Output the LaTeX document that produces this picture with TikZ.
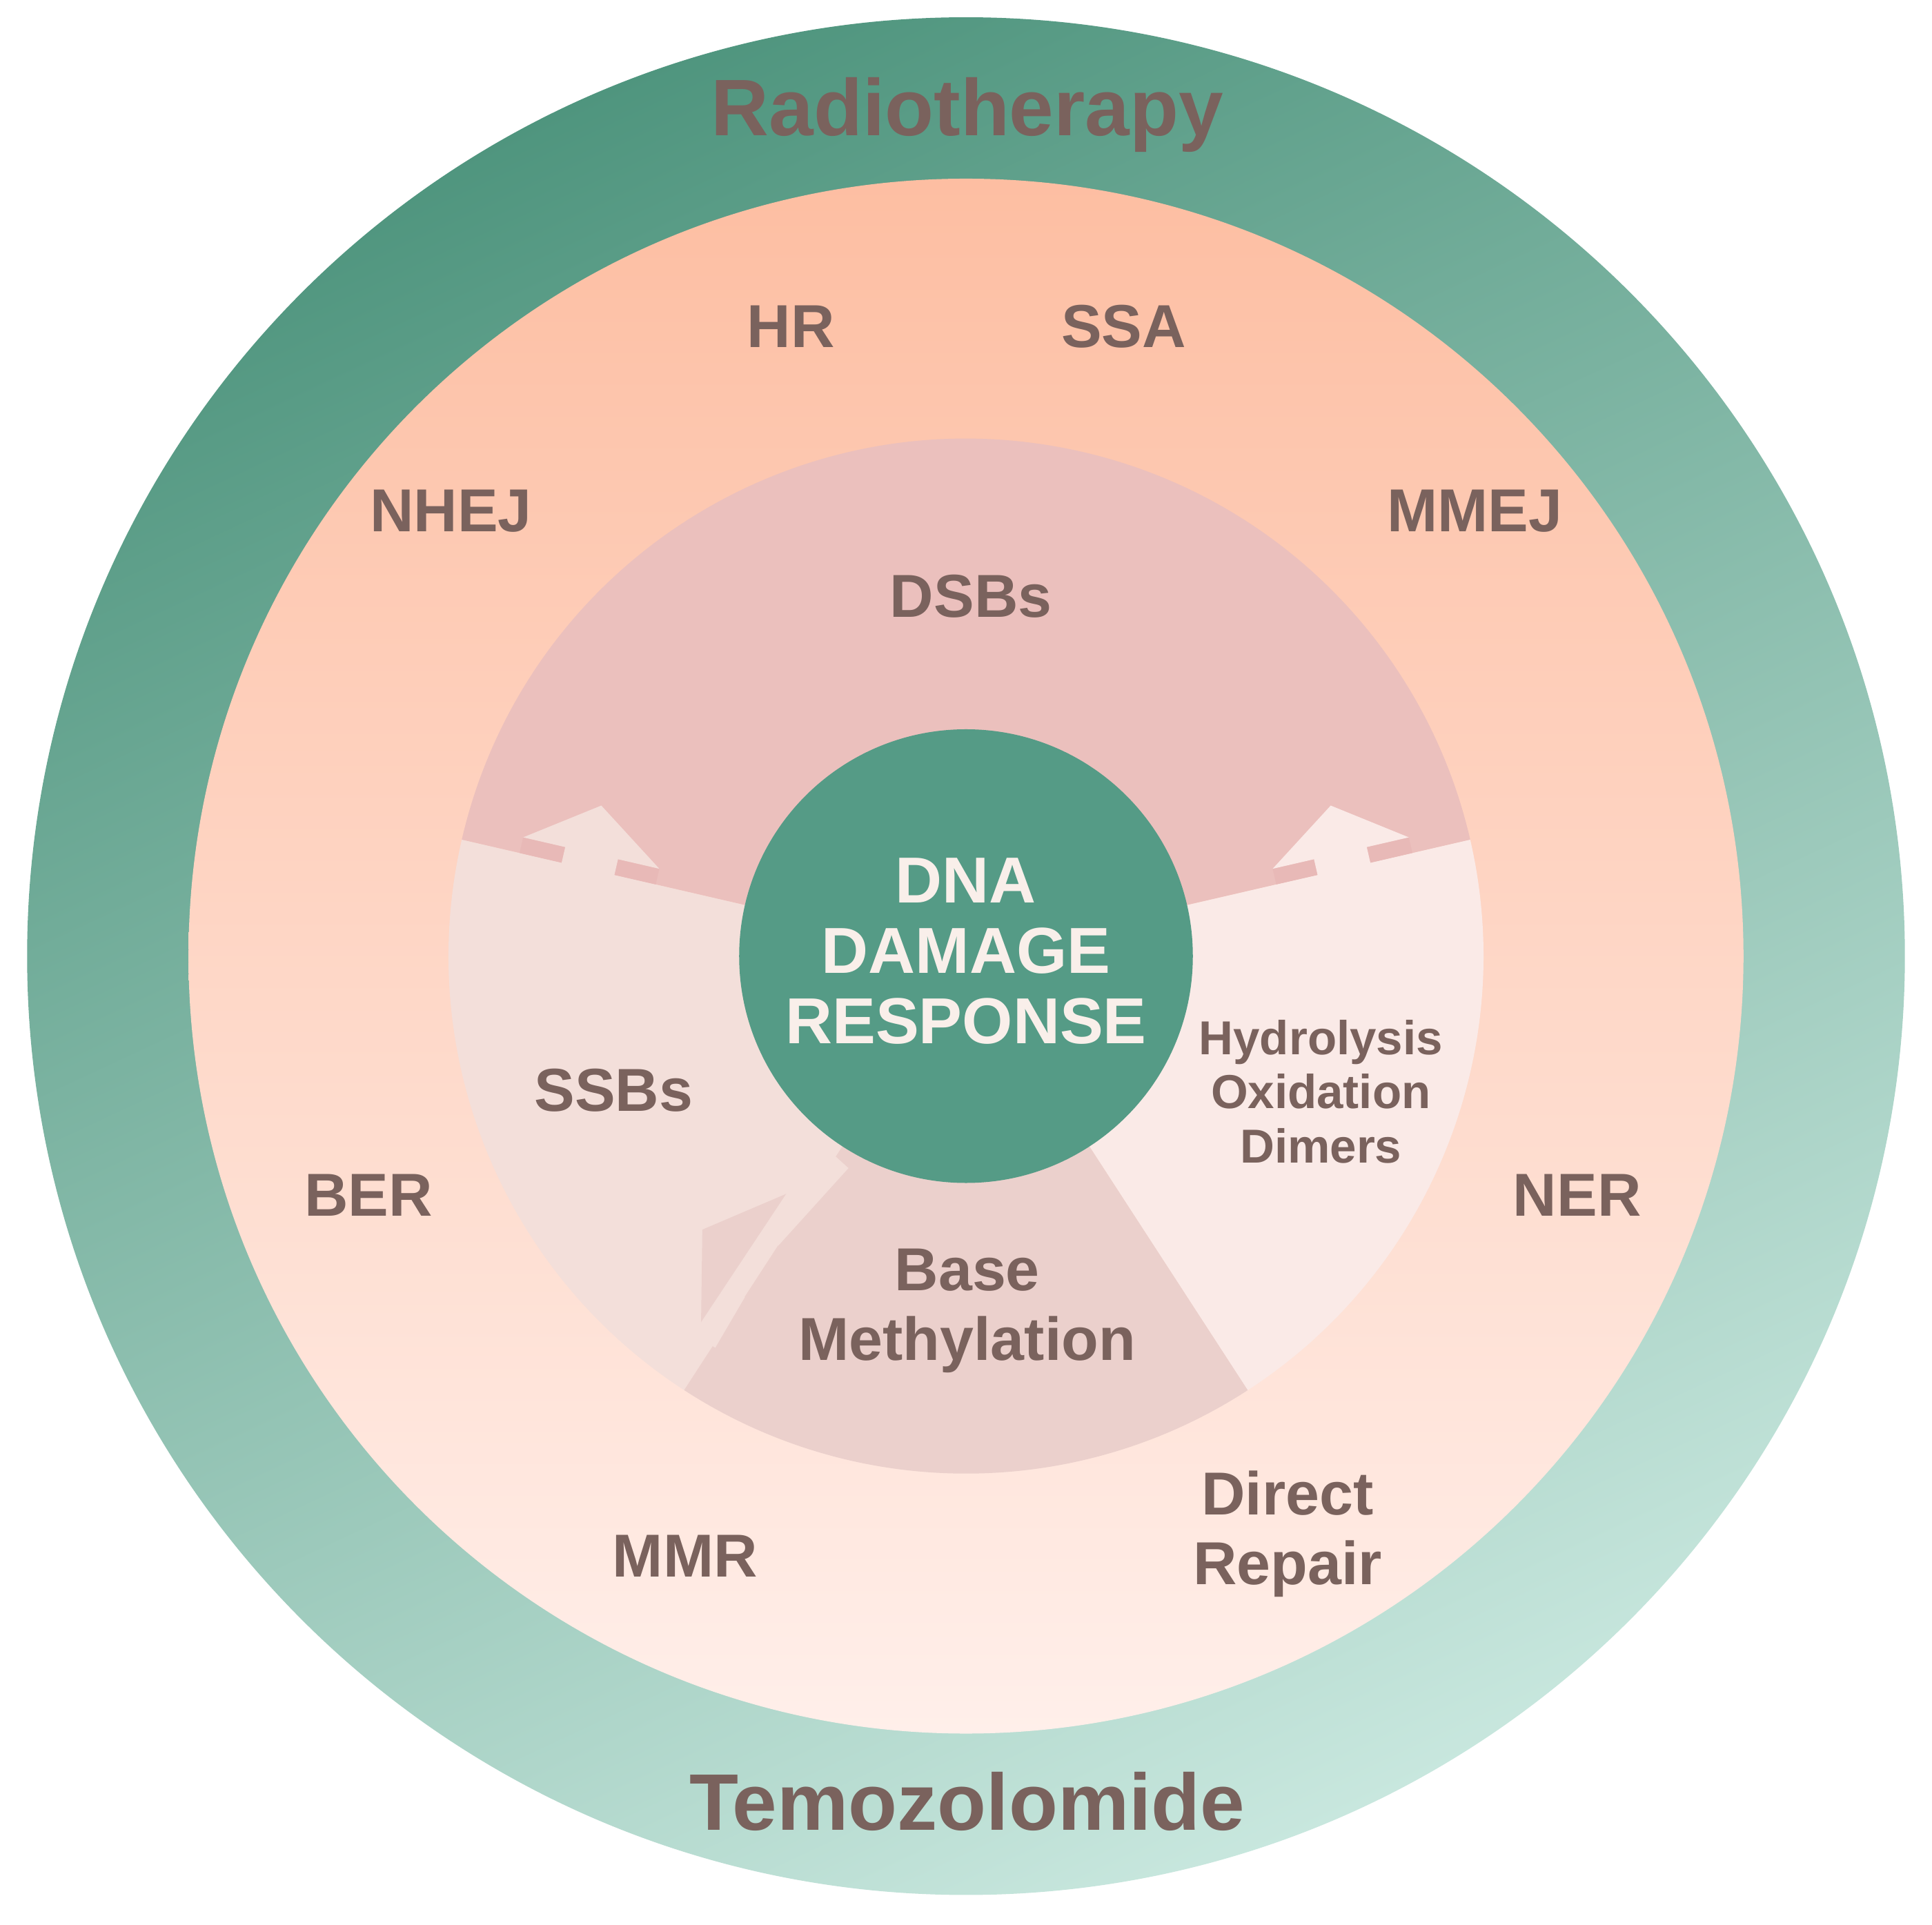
\documentclass[tikz,border=0pt]{standalone}
\usepackage{fontspec}
\setmainfont{Liberation Sans}
\definecolor{gdark}{HTML}{4F957E}
\definecolor{glight}{HTML}{C8E7DE}
\definecolor{salm}{HTML}{FDBEA2}
\definecolor{salmmid}{HTML}{FDC4AA}
\definecolor{salmlight}{HTML}{FFEFEA}
\definecolor{cdsb}{HTML}{EBC0BD}
\definecolor{cdsbdark}{HTML}{E8B9B7}
\definecolor{cssb}{HTML}{F3DFDA}
\definecolor{cbm}{HTML}{EBD0CC}
\definecolor{cright}{HTML}{FAEAE7}
\definecolor{ccenter}{HTML}{559B86}
\definecolor{tcol}{HTML}{7A625D}
\definecolor{twhite}{HTML}{F9EFEA}
\tikzset{
  lab/.style={text=tcol,font=\bfseries\fontsize{14}{16}\selectfont,align=center,inner sep=0pt},
  big/.style={text=tcol,font=\bfseries\fontsize{18.5}{20}\selectfont,inner sep=0pt},
  small/.style={text=tcol,font=\bfseries\fontsize{11}{12.5}\selectfont,align=center,inner sep=0pt},
  cen/.style={text=twhite,font=\bfseries\fontsize{15}{16.2}\selectfont,align=center,inner sep=0pt},
}
\begin{document}
\begin{tikzpicture}[x=0.01cm,y=-0.01cm]
\useasboundingbox (0,0) rectangle (1568,1562);
\coordinate (C) at (784,776);
% outer green ring
\shade[top color=gdark,bottom color=glight,shading angle=25] (C) circle[radius=762];
% salmon ring
\shade[top color=salm,middle color=salmmid,bottom color=salmlight] (C) circle[radius=631];
% sectors
\fill[cdsb] (C) -- ++(-167:420) arc[start angle=-167,end angle=-13,radius=420] -- cycle;
\fill[cssb] (C) -- ++(193:420) arc[start angle=193,end angle=123,radius=420] -- cycle;
\fill[cbm] (C) -- ++(123:420) arc[start angle=123,end angle=57,radius=420] -- cycle;
\fill[cright] (C) -- ++(57:420) arc[start angle=57,end angle=-13,radius=420] -- cycle;
% left arrow (SSB into DSB)
\fill[cdsbdark] (532.2,717.8) -- (498.6,710.1) -- (501.5,697.4) -- (535.1,705.1) -- cycle;
\fill[cdsbdark] (455.8,700.2) -- (421.7,692.3) -- (424.6,679.6) -- (458.7,687.5) -- cycle;
\fill[cssb] (497.5,715) -- (454.7,705.1) -- (459.2,685.6) -- (502,695.5) -- cycle;
\fill[cssb] (535.1,705.1) -- (424.6,679.6) -- (488,653.8) -- cycle;
% right arrow (right sector into DSB)
\fill[cdsbdark] (1035.8,717.8) -- (1069.4,710.1) -- (1066.5,697.4) -- (1032.9,705.1) -- cycle;
\fill[cdsbdark] (1112.2,700.2) -- (1146.3,692.3) -- (1143.4,679.6) -- (1109.3,687.5) -- cycle;
\fill[cright] (1070.5,715) -- (1113.3,705.1) -- (1108.8,685.6) -- (1066,695.5) -- cycle;
\fill[cright] (1032.9,705.1) -- (1143.4,679.6) -- (1080,653.8) -- cycle;
% bottom-left arrow (BM into SSB)
\fill[cbm] (570,998) -- (638,969) -- (569,1073) -- cycle;
\draw[cssb,line width=4.3pt] (683,943) -- (626,1006);
\draw[cssb,line width=4.3pt] (598,1049) -- (574,1090);
% centre
\node[circle,fill=ccenter,minimum size=3.68cm,inner sep=0pt] (core) at (C) {};
\node[cen] (ddr) at (784,772) {DNA\\DAMAGE\\RESPONSE};
% labels
\node[big] (rt) at (785,93) {Radiotherapy};
\node[big] (tmz) at (785,1462) {Temozolomide};
\node[lab] (hr) at (642,265) {HR};
\node[lab] (ssa) at (912,265) {SSA};
\node[lab] (nhej) at (366,415) {NHEJ};
\node[lab] (mmej) at (1197,415) {MMEJ};
\node[lab] (dsb) at (788,484) {DSBs};
\node[lab] (ssb) at (498,885) {SSBs};
\node[small] (hod) at (1072,886) {Hydrolysis\\Oxidation\\Dimers};
\node[lab] (ber) at (299,970) {BER};
\node[lab] (ner) at (1280,970) {NER};
\node[lab] (bm) at (785,1064) {Base\\Methylation};
\node[lab] (dr) at (1045,1245) {Direct\\Repair};
\node[lab] (mmr) at (556,1263) {MMR};
\end{tikzpicture}
\end{document}
